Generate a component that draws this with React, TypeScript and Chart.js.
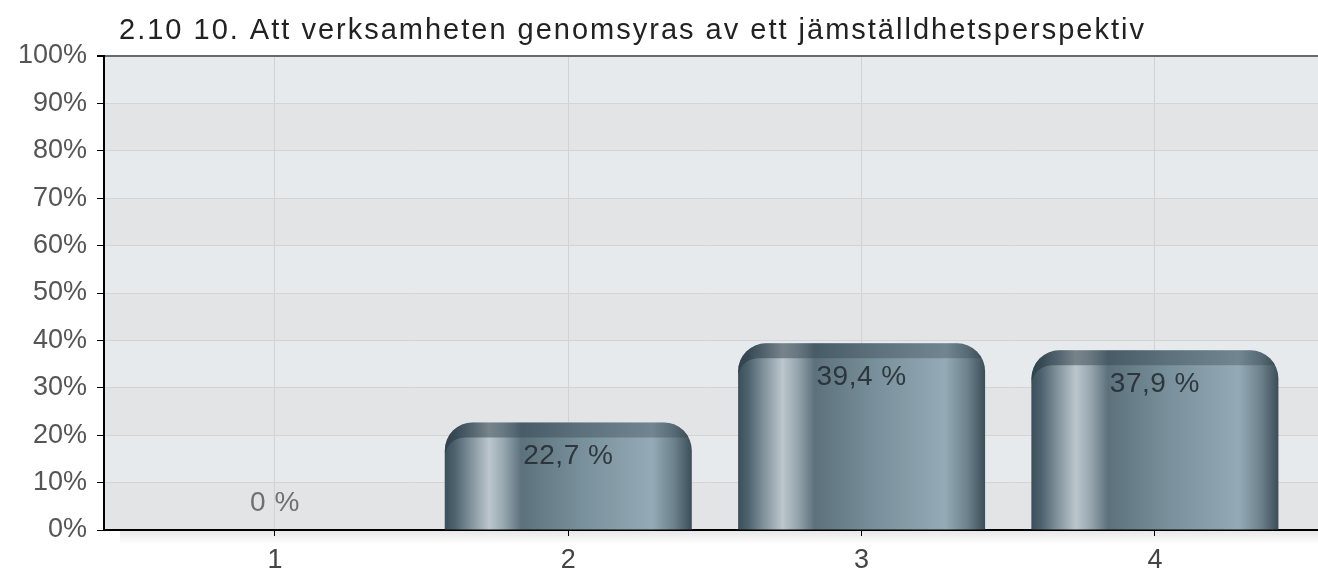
import React, { useEffect, useRef } from 'react';
import { Chart, registerables } from 'chart.js';

Chart.register(...registerables);

const chartTitle = '2.10 10. Att verksamheten genomsyras av ett jämställdhetsperspektiv';
const categories = ['1', '2', '3', '4'];
const values = [0, 22.7, 39.4, 37.9];
const valueLabels = ['0 %', '22,7 %', '39,4 %', '37,9 %'];
const yTickValues = [0, 10, 20, 30, 40, 50, 60, 70, 80, 90, 100];

const FONT = '"Liberation Sans", Arial, Helvetica, sans-serif';
const BAR_PCT = 0.842;
const X_MIN = 0.417;
const X_MAX = 4.556;
const RADIUS = 28;

function roundedTopPath(ctx: CanvasRenderingContext2D, l: number, t: number, w: number, h: number, r: number) {
  ctx.moveTo(l, t + h);
  ctx.lineTo(l, t + r);
  ctx.arcTo(l, t, l + r, t, r);
  ctx.lineTo(l + w - r, t);
  ctx.arcTo(l + w, t, l + w, t + r, r);
  ctx.lineTo(l + w, t + h);
  ctx.closePath();
}

const backdropPlugin = {
  id: 'backdrop',
  beforeDraw(chart: any) {
    const { ctx, chartArea } = chart;
    const y = chart.scales.y;
    ctx.save();
    for (let i = 0; i < yTickValues.length - 1; i++) {
      const yb = y.getPixelForValue(yTickValues[i]);
      const yt = y.getPixelForValue(yTickValues[i + 1]);
      ctx.fillStyle = i % 2 === 0 ? '#e3e4e6' : '#e7eaed';
      ctx.fillRect(chartArea.left, yt, chartArea.right - chartArea.left, yb - yt);
    }
    const g = ctx.createLinearGradient(0, chartArea.bottom, 0, chartArea.bottom + 14);
    g.addColorStop(0, 'rgba(0,0,0,0.10)');
    g.addColorStop(1, 'rgba(0,0,0,0)');
    ctx.fillStyle = g;
    ctx.fillRect(chartArea.left + 16, chartArea.bottom, chartArea.right - chartArea.left - 16, 14);
    ctx.fillStyle = '#222';
    ctx.font = `29px ${FONT}`;
    (ctx as any).letterSpacing = '2px';
    ctx.textAlign = 'left';
    ctx.textBaseline = 'alphabetic';
    ctx.fillText(chartTitle, 119, 39);
    (ctx as any).letterSpacing = '0px';
    ctx.restore();
  },
};

const barGradientPlugin = {
  id: 'barGradient',
  beforeDatasetsDraw(chart: any) {
    const { ctx } = chart;
    const meta = chart.getDatasetMeta(0);
    meta.data.forEach((el: any) => {
      const l = el.x - el.width / 2;
      const bw = el.width;
      if (!isFinite(l) || !isFinite(bw) || bw <= 0) return;
      const g = ctx.createLinearGradient(l, 0, l + bw, 0);
      g.addColorStop(0.0, '#3b4f5a');
      g.addColorStop(0.04, '#4c626d');
      g.addColorStop(0.1, '#7d8f99');
      g.addColorStop(0.18, '#bcc6cc');
      g.addColorStop(0.24, '#96a6af');
      g.addColorStop(0.31, '#5c717c');
      g.addColorStop(0.55, '#78909b');
      g.addColorStop(0.84, '#94aab6');
      g.addColorStop(0.93, '#6b808b');
      g.addColorStop(1.0, '#3c4e58');
      el.options = Object.assign({}, el.options, { backgroundColor: g });
    });
  },
};

const barDecorPlugin = {
  id: 'barDecor',
  afterDatasetsDraw(chart: any) {
    const { ctx, chartArea } = chart;
    const meta = chart.getDatasetMeta(0);
    meta.data.forEach((el: any, i: number) => {
      const l = el.x - el.width / 2;
      const w = el.width;
      const t = el.y;
      const h = el.base - el.y;
      if (h > 2) {
        ctx.save();
        ctx.beginPath();
        roundedTopPath(ctx, l, t, w, h, Math.min(RADIUS, h));
        ctx.clip();
        ctx.beginPath();
        ctx.rect(l - 2, t - 2, w + 4, h + 4);
        const it = t + 15;
        const ir = 20;
        ctx.moveTo(l, it + ir);
        ctx.arcTo(l, it, l + ir, it, ir);
        ctx.lineTo(l + w + 3, it);
        ctx.lineTo(l + w + 3, t + h + 3);
        ctx.lineTo(l, t + h + 3);
        ctx.closePath();
        const lg = ctx.createLinearGradient(l, 0, l + w, 0);
        lg.addColorStop(0, 'rgba(40,56,66,0.6)');
        lg.addColorStop(0.3, 'rgba(40,56,66,0.38)');
        lg.addColorStop(1, 'rgba(40,56,66,0.30)');
        ctx.fillStyle = lg;
        ctx.fill('evenodd');
        ctx.restore();
      }
      const ly = Math.min(el.y + 34, chartArea.bottom - 27);
      ctx.save();
      ctx.font = `28px ${FONT}`;
      (ctx as any).letterSpacing = '0.5px';
      ctx.textAlign = 'center';
      ctx.textBaseline = 'middle';
      ctx.fillStyle = values[i] === 0 ? '#707070' : 'rgba(38,46,52,0.9)';
      ctx.fillText(valueLabels[i], el.x, ly);
      (ctx as any).letterSpacing = '0px';
      ctx.restore();
    });
  },
};

export default function App() {
  const canvasRef = useRef<HTMLCanvasElement | null>(null);

  useEffect(() => {
    document.body.style.margin = '0';
    const canvas = canvasRef.current;
    if (!canvas) return;

    const chart = new Chart(canvas, {
      type: 'bar',
      data: {
        datasets: [
          {
            data: categories.map((_, i) => ({ x: i + 1, y: values[i] })),
            backgroundColor: '#6b8290',
            borderWidth: 0,
            borderRadius: { topLeft: RADIUS, topRight: RADIUS, bottomLeft: 0, bottomRight: 0 },
            borderSkipped: 'start',
            barPercentage: BAR_PCT,
            categoryPercentage: 1,
          },
        ],
      },
      options: {
        animation: false,
        responsive: true,
        maintainAspectRatio: false,
        layout: { padding: { top: 56, right: 0, left: 0, bottom: 0 } },
        plugins: {
          legend: { display: false },
          tooltip: { enabled: false },
          title: { display: false },
        },
        scales: {
          x: {
            type: 'linear',
            min: X_MIN,
            max: X_MAX,
            offset: false,
            afterBuildTicks: (scale: any) => {
              scale.ticks = categories.map((_, i) => ({ value: i + 1 }));
            },
            afterFit: (scale: any) => {
              scale.height = 48;
            },
            grid: {
              offset: false,
              color: '#d2d2d2',
              lineWidth: 1,
              tickColor: '#000',
              tickLength: 6,
            },
            border: { color: '#000', width: 2 },
            ticks: {
              autoSkip: false,
              maxRotation: 0,
              padding: 8,
              color: '#444',
              font: { family: FONT, size: 27 },
              callback: (v: any) => categories[Math.round(Number(v)) - 1] ?? '',
            },
          },
          y: {
            min: 0,
            max: 100,
            afterBuildTicks: (scale: any) => {
              scale.ticks = yTickValues.map((v) => ({ value: v }));
            },
            afterFit: (scale: any) => {
              scale.width = 104;
            },
            grid: {
              color: (c: any) =>
                c.tick && c.tick.value === 100 ? '#6a6a6a' : c.tick && c.tick.value === 0 ? 'rgba(0,0,0,0)' : '#d4d4d4',
              lineWidth: (c: any) => (c.tick && c.tick.value === 100 ? 2 : 1),
              tickColor: '#000',
              tickLength: 7,
            },
            border: { color: '#000', width: 2 },
            ticks: {
              padding: 10,
              color: '#555',
              font: { family: FONT, size: 27 },
              callback: (v: any) => `${v}%`,
            },
          },
        },
      },
      plugins: [backdropPlugin, barGradientPlugin, barDecorPlugin],
    } as any);

    return () => chart.destroy();
  }, []);

  return (
    <div style={{ position: 'relative', width: 1318, height: 578 }}>
      <canvas ref={canvasRef} />
    </div>
  );
}
